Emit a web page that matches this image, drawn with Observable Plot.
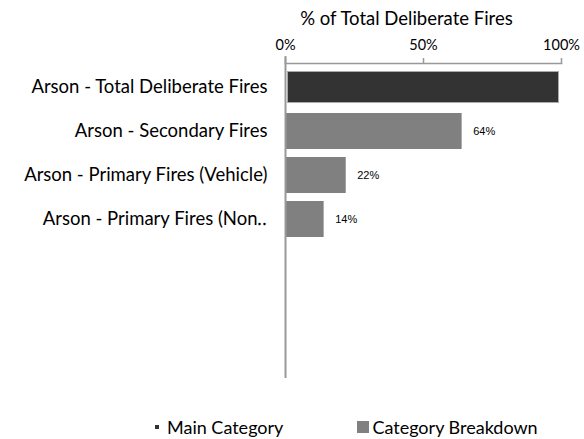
<!DOCTYPE html>
<html><head><meta charset="utf-8">
<script src="https://cdn.jsdelivr.net/npm/d3@7"></script>
<script src="https://cdn.jsdelivr.net/npm/@observablehq/plot@0.6"></script>
<style>
body{margin:0;background:#fff;font-family:Lato,"Open Sans",sans-serif;}
#chart svg{display:block;}
#legend{display:flex;align-items:center;height:28px;padding-left:155px;font-size:18px;color:#000;font-family:Lato,sans-serif;}
#legend .item{display:flex;align-items:center;}
#legend .sw{display:inline-block;margin-right:8px;}
</style></head><body><div id="chart"></div><div id="legend"></div><script>
const categories = ["Arson - Total Deliberate Fires","Arson - Secondary Fires","Arson - Primary Fires (Vehicle)","Arson - Primary Fires (Non\u2025"];
const values = [1.00, 0.64, 0.22, 0.14];
const groups = ["Main Category","Category Breakdown","Category Breakdown","Category Breakdown"];
const groupNames = ["Main Category","Category Breakdown"];
const groupColors = ["#333333","#808080"];
const xTicks = [0, 0.5, 1];
const axisTitle = "% of Total Deliberate Fires";

const data = categories.map((c,i)=>({cat:c, value:values[i], group:groups[i]}));
const pct = d3.format(".0%");
const H = 413;

const plot = Plot.plot({
  width: 584, height: H,
  marginLeft: 285, marginRight: 23, marginTop: 63, marginBottom: H - 378,
  style: {fontFamily: "Lato, sans-serif", background: "#fff"},
  x: {domain: [0,1], ticks: xTicks, tickFormat: pct},
  y: {domain: categories, range: [62, 244], paddingInner: 0.18, paddingOuter: 0.125},
  color: {domain: groupNames, range: groupColors},
  marks: [
    Plot.barX(data.filter(d=>d.group===groupNames[0]), {x:"value", y:"cat", fill:"group", stroke:"#aaa", strokeWidth:1, inset:2.5, insetLeft:2.5}),
    Plot.barX(data.filter(d=>d.group===groupNames[1]), {x:"value", y:"cat", fill:"group", insetLeft:0}),
    Plot.text(data.filter(d=>d.group===groupNames[1]), {x:"value", y:"cat", text:d=>pct(d.value), dx:11, textAnchor:"start", fontSize:11, fontFamily:"Arial, Liberation Sans, sans-serif", fill:"#000"}),
    Plot.frame({anchor:"top", stroke:"#999", strokeWidth:1.5}),
    Plot.ruleX([0], {stroke:"#999", strokeWidth:2, insetTop:-7}),
    Plot.axisX({anchor:"top", ticks: xTicks, tickFormat: pct, tickSize:6, tickPadding:8, fontSize:14.5, stroke:"#999", strokeWidth:1.5, color:"#000", label:null}),
    Plot.text([axisTitle], {frameAnchor:"top", dx:-17, dy:-44, fontSize:18.5, fill:"#000", lineAnchor:"middle"}),
    Plot.axisY({anchor:"left", tickSize:0, tickPadding:18, fontSize:18.5, color:"#000", label:null})
  ]
});
document.getElementById("chart").appendChild(plot);

const leg = document.getElementById("legend");
const sizes = [4, 12];
const gaps = [0, 74];
groupNames.forEach((g,i)=>{
  const it = document.createElement("span"); it.className="item";
  it.style.marginLeft = gaps[i]+"px";
  const sw = document.createElement("span"); sw.className="sw";
  sw.style.width = sizes[i]+"px"; sw.style.height = sizes[i]+"px"; sw.style.background = groupColors[i];
  if (i===1) sw.style.marginRight="3px";
  it.appendChild(sw);
  it.appendChild(document.createTextNode(g));
  leg.appendChild(it);
});
</script></body></html>
